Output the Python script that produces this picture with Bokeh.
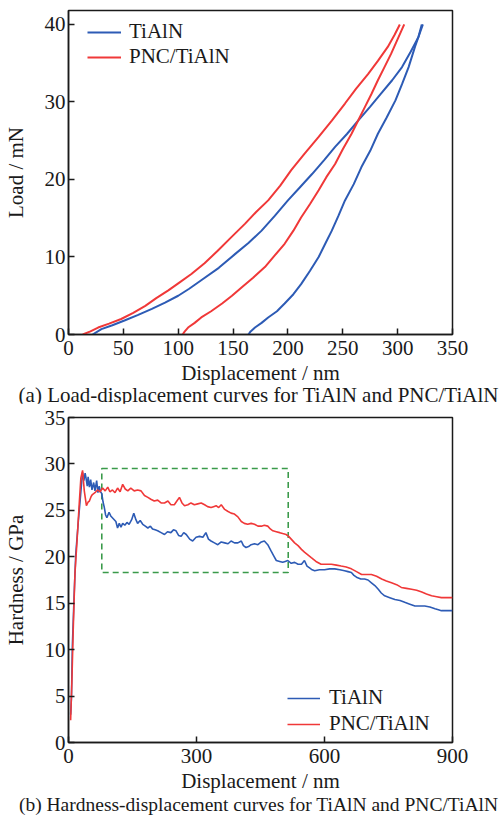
from bokeh.plotting import figure
from bokeh.layouts import column
from bokeh.models import Range1d, Legend, LegendItem, FixedTicker, Div
from bokeh.embed import file_html
from bokeh.resources import INLINE

FONT = "Liberation Serif, Times New Roman, serif"
CSS_FONT = "'Liberation Serif', 'Times New Roman', serif"
BLUE = "#2d5bb5"
RED = "#f03838"
GREEN = "#3a9a4a"
TXT = "#1a1a1a"

# ---------- (a) Load-displacement ----------
ti_load_x = [22, 30, 40, 51, 63, 76, 88, 100, 110, 121, 137, 152, 164, 176, 188, 200, 211,
             222, 233, 243, 254, 264, 275, 285, 295, 304, 312, 319, 322]
ti_load_y = [0, 0.7, 1.2, 1.8, 2.5, 3.3, 4.1, 5.0, 5.9, 7.0, 8.6, 10.4, 11.8, 13.4, 15.3,
             17.3, 19.0, 20.7, 22.5, 24.2, 25.9, 27.6, 29.4, 31.1, 32.8, 34.5, 36.5, 38.4, 40]
ti_unload_x = [323, 316, 310, 304, 298, 290, 282, 275, 267, 260, 252, 246, 240, 234, 228,
               220, 212, 205, 197, 190, 182, 176, 170, 166, 164]
ti_unload_y = [40, 37.2, 34.5, 32.3, 30.2, 28.0, 25.9, 23.7, 21.6, 19.4, 17.3, 15.3, 13.4,
               11.7, 10.0, 8.2, 6.5, 5.2, 4.0, 3.0, 2.2, 1.5, 0.9, 0.4, 0]

pnc_load_x = [13, 20, 27, 37, 48, 59, 70, 80, 91, 101, 112, 124, 136, 148, 161, 171, 182,
              193, 203, 215, 228, 240, 252, 262, 273, 282, 291, 297, 302]
pnc_load_y = [0, 0.4, 0.9, 1.4, 2.0, 2.8, 3.7, 4.7, 5.7, 6.7, 7.8, 9.2, 10.8, 12.5, 14.3,
              15.8, 17.3, 19.2, 21.2, 23.3, 25.5, 27.6, 29.8, 31.7, 33.6, 35.3, 37.1, 38.6, 40]
pnc_unload_x = [306, 300, 294, 288, 282, 276, 270, 264, 258, 250, 243, 235, 228, 220, 212,
                205, 197, 188, 179, 168, 158, 149, 140, 130, 121, 115, 109, 106, 104]
pnc_unload_y = [40, 38.1, 36.2, 34.5, 32.8, 31.0, 29.3, 27.6, 25.9, 23.9, 22.0, 20.3, 18.6,
                16.8, 15.1, 13.4, 11.7, 10.2, 8.7, 7.3, 6.1, 5.0, 4.0, 3.0, 2.2, 1.5, 0.9,
                0.4, 0]

a_xticks = [0, 50, 100, 150, 200, 250, 300, 350]
a_yticks = [0, 10, 20, 30, 40]

# ---------- (b) Hardness-displacement ----------
ti_h_x = [5, 7, 9, 13, 17, 23, 29, 33, 36, 39, 41, 44, 46, 49, 52, 55, 59, 62, 66, 69, 72,
          75, 78, 81, 84, 87, 90, 95, 99, 105, 111, 115, 119, 123, 127, 132, 137, 142, 148,
          153, 158, 162, 168, 174, 180, 186, 192, 197, 203, 209, 217, 225, 232, 240, 246, 252,
          258, 264, 270, 276, 284, 291, 299, 307, 315, 322, 328, 334, 342, 350, 358, 366,
          374, 381, 389, 397, 405, 410, 416, 422, 428, 436, 444, 452, 459, 467, 475, 481,
          487, 495, 502, 508, 514, 522, 530, 538, 546, 553, 559, 565, 571, 577, 588, 600,
          612, 624, 636, 647, 655, 663, 669, 675, 685, 694, 702, 710, 718, 726, 733, 741,
          753, 765, 777, 788, 800, 812, 824, 835, 847, 859, 867, 874, 887, 900]
ti_h_y = [3.0, 4.9, 10.3, 15.6, 20.3, 23.8, 27.0, 29.1, 28.2, 29.0, 28.5, 27.6, 28.6, 27.5,
          28.3, 27.2, 28.0, 27.1, 28.2, 26.9, 27.6, 27.0, 26.8, 25.9, 25.3, 24.5, 24.2, 24.8,
          24.4, 24.1, 23.8, 23.1, 23.6, 23.2, 23.6, 23.4, 23.7, 23.5, 24.0, 24.7, 24.0, 23.6,
          23.9, 23.5, 23.3, 23.1, 23.3, 23.0, 22.9, 22.8, 22.6, 22.4, 22.7, 22.6, 22.9, 22.8,
          22.3, 22.2, 22.6, 22.4, 21.9, 21.7, 22.1, 22.2, 22.1, 22.6, 21.9, 21.7, 21.5, 21.3,
          21.6, 21.5, 21.4, 21.7, 21.5, 21.5, 21.7, 21.2, 21.0, 21.1, 21.3, 21.4, 21.3, 21.6,
          21.7, 21.3, 20.6, 20.1, 19.6, 19.5, 19.4, 19.5, 19.6, 19.3, 19.4, 19.2, 19.2, 19.6,
          19.0, 18.8, 18.6, 18.5, 18.6, 18.6, 18.7, 18.7, 18.6, 18.5, 18.4, 18.3, 18.0, 17.8,
          17.6, 17.6, 17.5, 17.2, 16.9, 16.5, 16.1, 15.8, 15.6, 15.4, 15.3, 15.1, 14.9, 14.7,
          14.7, 14.7, 14.6, 14.4, 14.3, 14.2, 14.2, 14.2]

pnc_h_x = [5, 8, 11, 15, 20, 25, 29, 33, 37, 42, 46, 49, 53, 56, 62, 68, 74, 80, 86, 92, 97,
           103, 109, 115, 121, 127, 133, 139, 146, 154, 162, 170, 178, 186, 193, 201, 209,
           217, 225, 233, 240, 248, 254, 260, 266, 272, 280, 287, 295, 303, 311, 319, 326,
           334, 340, 346, 352, 358, 366, 373, 381, 389, 397, 405, 412, 420, 428, 436, 444,
           452, 459, 467, 473, 479, 487, 495, 502, 510, 516, 522, 530, 538, 546, 553, 561,
           569, 580, 592, 604, 616, 628, 639, 651, 663, 675, 687, 698, 710, 722, 734, 745,
           757, 769, 780, 792, 804, 816, 828, 839, 851, 863, 874, 887, 900]
pnc_h_y = [2.4, 6.7, 12.0, 18.1, 21.7, 25.6, 28.5, 29.3, 27.1, 25.5, 25.9, 26.0, 26.5, 26.7,
           26.9, 27.2, 27.0, 27.4, 27.1, 27.5, 27.0, 27.2, 26.9, 27.4, 27.0, 27.8, 27.3, 27.1,
           27.4, 27.1, 27.2, 27.1, 26.6, 26.4, 26.2, 26.0, 26.1, 25.8, 25.8, 26.0, 25.6, 25.6,
           26.0, 26.4, 25.8, 25.5, 25.6, 25.8, 25.6, 25.7, 25.8, 25.6, 25.4, 25.3, 25.4, 25.5,
           25.3, 25.6, 25.1, 24.9, 24.7, 24.6, 24.3, 23.8, 23.6, 23.5, 23.6, 23.5, 23.3, 23.3,
           23.4, 23.3, 23.0, 22.8, 22.7, 22.6, 22.5, 22.4, 22.2, 21.9, 21.5, 21.2, 20.8, 20.5,
           20.2, 19.9, 19.5, 19.2, 19.2, 19.2, 19.1, 19.0, 18.9, 18.7, 18.4, 18.1, 18.1, 18.1,
           17.9, 17.6, 17.4, 17.2, 17.0, 16.7, 16.6, 16.5, 16.4, 16.2, 16.0, 15.8, 15.7, 15.6,
           15.6, 15.6]

box_x = [78, 515]
box_y = [18.3, 29.5]

b_xticks = [0, 300, 600, 900]
b_yticks = [0, 5, 10, 15, 20, 25, 30, 35]

caption_a = "(a) Load-displacement curves for TiAlN and PNC/TiAlN"
caption_b = "(b) Hardness-displacement curves for TiAlN and PNC/TiAlN"


def style(p, xticks, yticks, xlabel, ylabel):
    p.xaxis.ticker = FixedTicker(ticks=xticks)
    p.yaxis.ticker = FixedTicker(ticks=yticks)
    p.xaxis.axis_label = xlabel
    p.yaxis.axis_label = ylabel
    for ax in (p.xaxis, p.yaxis):
        ax.major_tick_in = 6
        ax.major_tick_out = 0
        ax.minor_tick_in = 0
        ax.minor_tick_out = 0
        ax.major_tick_line_color = TXT
        ax.major_tick_line_width = 1.5
        ax.axis_line_color = TXT
        ax.axis_line_width = 1.5
        ax.major_label_text_font = FONT
        ax.major_label_text_font_size = "21px"
        ax.major_label_text_color = TXT
        ax.axis_label_text_font = FONT
        ax.axis_label_text_font_size = "21px"
        ax.axis_label_text_font_style = "normal"
        ax.axis_label_text_color = TXT
    p.xaxis.major_label_standoff = 6
    p.yaxis.major_label_standoff = 3
    p.xaxis.axis_label_standoff = 3
    p.yaxis.axis_label_standoff = 14
    p.xgrid.visible = False
    p.ygrid.visible = False
    p.outline_line_color = TXT
    p.outline_line_width = 1.5
    p.outline_line_alpha = 1.0


def caption(text, size, h):
    return Div(text=text, width=491, height=h, margin=(0, 0, 0, 13),
               styles={"font-family": CSS_FONT, "font-size": size, "color": TXT,
                       "text-align": "center", "line-height": f"{h}px",
                       "white-space": "nowrap"})


# ---- figure (a)
p1 = figure(frame_width=384, frame_height=324, min_border_left=67, min_border_right=50,
            min_border_top=10, min_border_bottom=0,
            x_range=Range1d(0, 350), y_range=Range1d(0, 41.8),
            output_backend="svg", toolbar_location=None)
style(p1, a_xticks, a_yticks, "Displacement / nm", "Load / mN")

r1 = p1.line(ti_load_x, ti_load_y, line_color=BLUE, line_width=2)
p1.line(ti_unload_x, ti_unload_y, line_color=BLUE, line_width=2)
r2 = p1.line(pnc_load_x, pnc_load_y, line_color=RED, line_width=2)
p1.line(pnc_unload_x, pnc_unload_y, line_color=RED, line_width=2)

leg1 = Legend(items=[LegendItem(label="TiAlN", renderers=[r1]),
                     LegendItem(label="PNC/TiAlN", renderers=[r2])],
              location=(19, 265), margin=0, padding=0, spacing=-2,
              glyph_width=34, glyph_height=20, label_height=20, label_standoff=8,
              label_text_font=FONT, label_text_font_size="21px", label_text_color=TXT,
              label_text_line_height=0.9,
              border_line_alpha=0, background_fill_alpha=0)
p1.add_layout(leg1)

# ---- figure (b)
p2 = figure(frame_width=384, frame_height=325, min_border_left=67, min_border_right=50,
            min_border_top=14, min_border_bottom=0,
            x_range=Range1d(0, 900), y_range=Range1d(0, 35),
            output_backend="svg", toolbar_location=None)
style(p2, b_xticks, b_yticks, "Displacement / nm", "Hardness / GPa")

p2.quad(left=box_x[0], right=box_x[1], bottom=box_y[0], top=box_y[1],
        fill_alpha=0, line_color=GREEN, line_width=1.6, line_dash="6 4")
q1 = p2.line(ti_h_x, ti_h_y, line_color=BLUE, line_width=1.6)
q2 = p2.line(pnc_h_x, pnc_h_y, line_color=RED, line_width=1.6)

leg2 = Legend(items=[LegendItem(label="TiAlN", renderers=[q1]),
                     LegendItem(label="PNC/TiAlN", renderers=[q2])],
              location=(219, 6), margin=0, padding=0, spacing=1,
              glyph_width=33, glyph_height=20, label_height=20, label_standoff=9,
              label_text_font=FONT, label_text_font_size="21px", label_text_color=TXT,
              label_text_line_height=0.9,
              border_line_alpha=0, background_fill_alpha=0)
p2.add_layout(leg2)

layout = column(p1, caption(caption_a, "21px", 16), p2, caption(caption_b, "19.5px", 20),
                spacing=0)
open("out.html", "w").write(file_html(layout, INLINE))
